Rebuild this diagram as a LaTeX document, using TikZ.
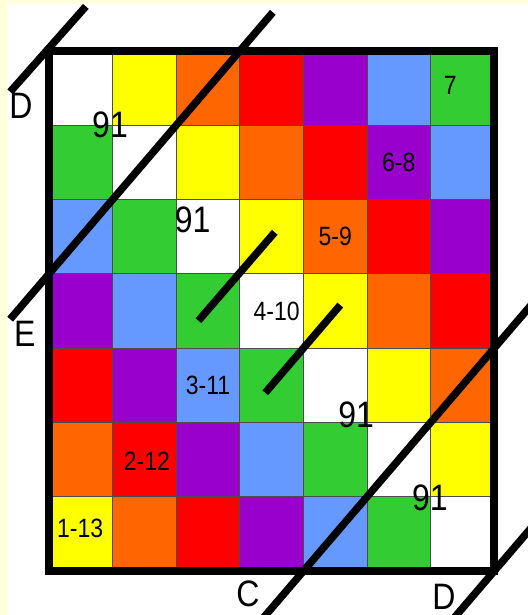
\documentclass[tikz,border=0pt]{standalone}
\usepackage{fontspec}
\setmainfont{Liberation Sans}
\usepackage{tikz}
\definecolor{Cream}{HTML}{FFFFDC}
\definecolor{Cell0}{HTML}{FFFFFF}
\definecolor{Cell1}{HTML}{FFFF00}
\definecolor{Cell2}{HTML}{FF6600}
\definecolor{Cell3}{HTML}{FF0000}
\definecolor{Cell4}{HTML}{9900CC}
\definecolor{Cell5}{HTML}{6699FF}
\definecolor{Cell6}{HTML}{33CC33}
\tikzset{
  cell/.style={draw=black!70,line width=0.8pt},
  cut/.style={line width=7.5pt},
  big/.style={font=\fontsize{32}{36}\selectfont,yscale=1.15,inner sep=0pt},
  pair/.style={font=\fontsize{23}{26}\selectfont,yscale=1.15,inner sep=0pt},
}

\begin{document}
\begin{tikzpicture}[x=63.6pt,y=-74.3pt]
  \useasboundingbox (-0.770,-0.686) rectangle (7.531,7.591);
  \fill[Cream] (-0.770,-0.686) rectangle (7.531,7.591);
  \fill[white] (-0.660,-0.633) rectangle (7.531,7.591);
  % latin square of colours
  \foreach \r in {0,...,6}
    \foreach \c in {0,...,6}{
      \pgfmathtruncatemacro\k{mod(\c-\r+7,7)}
      \draw[cell,fill=Cell\k] (\c,\r) rectangle ++(1,1);
    }
  \draw[line width=8pt] (0,0) rectangle (7,7);
  % cutting lines
  \draw[cut] (-0.61,0.55) -- (0.58,-0.60);
  \draw[cut] (-0.61,3.61) -- (3.52,-0.52);
  \draw[cut] (2.35,3.63) -- (3.55,2.44);
  \draw[cut] (3.40,4.60) -- (4.58,3.42);
  \draw[cut] (3.30,7.70) -- (7.70,3.30);
  \draw[cut] (6.30,7.70) -- (7.70,6.30);
  % edge letters
  \node[big] (dtop) at (-0.44,0.74) {D};
  \node[big] (e) at (-0.38,3.81) {E};
  \node[big] (c) at (3.13,7.31) {C};
  \node[big] (dbot) at (6.21,7.35) {D};
  % sums
  \node[big] (s1) at (0.96,1.00) {91};
  \node[big] (s2) at (2.26,2.27) {91};
  \node[big] (s3) at (4.83,4.90) {91};
  \node[big] (s4) at (5.99,6.02) {91};
  % pairs
  \node[pair] (p7) at (6.31,0.46) {7};
  \node[pair] (p68) at (5.50,1.50) {6-8};
  \node[pair] (p59) at (4.50,2.50) {5-9};
  \node[pair] (p410) at (3.58,3.50) {4-10};
  \node[pair] (p311) at (2.50,4.50) {3-11};
  \node[pair] (p212) at (1.54,5.52) {2-12};
  \node[pair] (p113) at (0.49,6.43) {1-13};
\end{tikzpicture}
\end{document}
